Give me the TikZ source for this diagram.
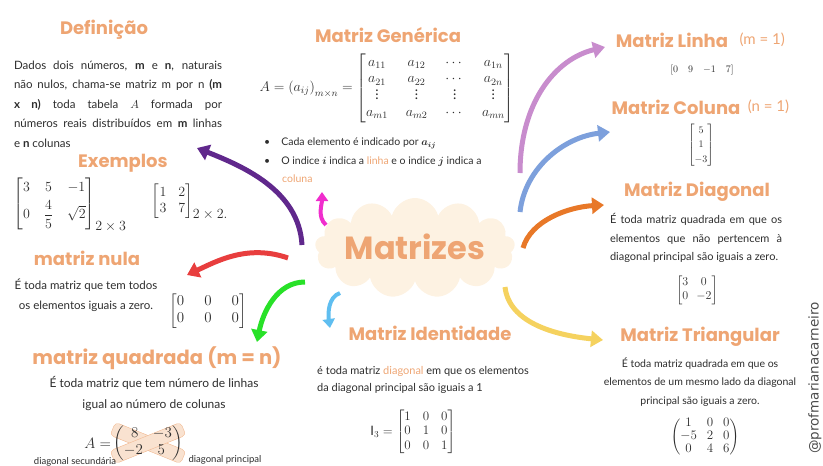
\RequirePackage{fix-cm}
\documentclass[tikz,border=0pt]{standalone}
\usepackage{amsmath}
\usepackage{fontspec}
\setmainfont{Lato}
\newfontfamily\titlefont{Poppins}
\newfontfamily\handlefont{DejaVu Sans}
\usetikzlibrary{positioning,arrows.meta,shapes.symbols,backgrounds}

\definecolor{peach}{RGB}{238,165,115}
\definecolor{peachsoft}{RGB}{246,214,188}
\definecolor{cream}{RGB}{253,242,226}
\definecolor{ink}{RGB}{45,45,45}
\definecolor{arrpurple}{RGB}{96,40,140}
\definecolor{arrred}{RGB}{232,62,62}
\definecolor{arrgreen}{RGB}{40,225,40}
\definecolor{arrmagenta}{RGB}{240,45,205}
\definecolor{arrsky}{RGB}{95,190,240}
\definecolor{arrpink}{RGB}{200,140,205}
\definecolor{arrblue}{RGB}{125,160,220}
\definecolor{arrorange}{RGB}{232,120,40}
\definecolor{arryellow}{RGB}{245,210,95}

\newcommand{\lowdots}{\smash{\vdots}}

\begin{document}
\begin{tikzpicture}[
        x=1pt, y=-1pt,
        title/.style={
            font=\titlefont\bfseries\fontsize{18}{21}\selectfont,
            text=peach,
            inner sep=1pt
        },
        body/.style={
            font=\fontsize{11.5}{19.5}\selectfont,
            text=ink,
            align=center,
            inner sep=0pt
        },
        mat/.style={
            font=\fontsize{13}{15}\selectfont,
            text=ink,
            inner sep=0pt
        },
        branch/.style={
            -{Triangle[length=12pt, width=16pt]},
            line width=5pt
        },
        twig/.style={
            -{Triangle[length=9pt, width=12pt]},
            line width=4pt
        },
        band/.style={
            draw=peach!80,
            fill=peachsoft!70,
            rounded corners=4pt,
            minimum width=76pt,
            minimum height=14pt
        }
    ]
        \useasboundingbox (0,0) rectangle (823,466);

        % --- centre ---
        \node[cloud, cloud puffs=13, aspect=2.1, fill=cream, minimum width=200pt,
              minimum height=100pt, inner sep=0pt] (matrizes) at (415,248) {};
        \node[title, font=\titlefont\bfseries\fontsize{32}{36}\selectfont] (centre) at (415,247) {Matrizes};

        % --- Definição / Exemplos ---
        \node[title] (deftitle) at (104,30) {Definição};
        \node[body, align=justify, text width=208pt] (deftext) at (118,104) {%
            Dados dois números, \textbf{m} e \textbf{n}, naturais\linebreak
            não nulos, chama-se matriz m por n \textbf{(m}\linebreak
            \textbf{x n)} toda tabela $A$ formada por\linebreak
            números reais distribuídos em \textbf{m} linhas\linebreak
            e \textbf{n} colunas};

        \node[title] (extitle) at (123,163) {Exemplos};
        \node[mat, font=\fontsize{14}{16}\selectfont] (ex1) at (70,205)
            {$\setlength{\arraycolsep}{7pt}\begin{bmatrix}3&5&-1\\[4pt]0&\dfrac{4}{5}&\sqrt{2}\end{bmatrix}_{\textstyle 2\times 3}$};
        \node[mat, font=\fontsize{14}{16}\selectfont] (ex2) at (190,202)
            {$\setlength{\arraycolsep}{6pt}\begin{bmatrix}1&2\\3&7\end{bmatrix}_{\textstyle 2\times 2.}$};

        % --- matriz nula ---
        \node[title] (nulatitle) at (87,258) {matriz nula};
        \node[body] (nulatext) at (86,295) {É toda matriz que tem todos\\os elementos iguais a zero.};
        \node[mat, font=\fontsize{15}{17}\selectfont] (zeromat) at (208,311)
            {$\setlength{\arraycolsep}{10pt}\begin{bmatrix}0&0&0\\0&0&0\end{bmatrix}$};

        % --- matriz quadrada ---
        \node[title, font=\titlefont\bfseries\fontsize{19.5}{22}\selectfont] (quadtitle) at (157,358) {matriz quadrada (m = n)};
        \node[body, font=\fontsize{12}{21}\selectfont] (quadtext) at (154,394) {É toda matriz que tem número de linhas\\igual ao número de colunas};
        \node[mat, font=\fontsize{15}{17}\selectfont] (quadmat) at (148,443)
            {$\begin{pmatrix}\,8&-3\\-2&5\,\end{pmatrix}$};
        \node[mat, font=\fontsize{15}{17}\selectfont, left=2pt of quadmat] (quadA) {$A=$};
        \begin{scope}[on background layer]
            \node[band, rotate=-22] (princband) at (quadmat.center) {};
            \node[band, rotate=22] (secband) at (quadmat.center) {};
        \end{scope}
        \node[body, font=\fontsize{9.5}{11}\selectfont] (seclabel) at (75,462) {diagonal secundária};
        \node[body, font=\fontsize{9.5}{11}\selectfont] (prinlabel) at (225,460) {diagonal principal};

        % --- matriz genérica ---
        \node[title] (gentitle) at (388,35) {Matriz Genérica};
        \node[mat, font=\fontsize{14}{16}\selectfont] (geneq) at (387,88)
            {\renewcommand{\arraystretch}{1.05}$A=\left(a_{ij}\right)_{m\times n}=\setlength{\arraycolsep}{9pt}\begin{bmatrix}a_{11}&a_{12}&\cdots&a_{1n}\\a_{21}&a_{22}&\cdots&a_{2n}\\\lowdots&\lowdots&\lowdots&\lowdots\\a_{m1}&a_{m2}&\cdots&a_{mn}\end{bmatrix}$};
        \node[body, align=left, anchor=north west, font=\fontsize{10.5}{18.5}\selectfont] (bullets) at (264,138)
            {\textbullet\hspace{11pt}Cada elemento é indicado por $\boldsymbol{a_{ij}}$\\
             \textbullet\hspace{11pt}O indice $\boldsymbol{i}$ indica a \textcolor{peach}{linha} e o indice $\boldsymbol{j}$ indica a\\
             \hspace{18pt}\textcolor{peach}{coluna}};

        % --- matriz linha / coluna ---
        \node[title] (linhatitle) at (672,40) {Matriz Linha};
        \node[body, text=peach, font=\fontsize{15}{17}\selectfont, right=10pt of linhatitle] (linhacond) {(m = 1)};
        \node[mat, font=\fontsize{10}{12}\selectfont] (linhavec) at (702,70) {$[0\quad 9\quad {-1}\quad 7]$};

        \node[title] (colunatitle) at (676,107) {Matriz Coluna};
        \node[body, text=peach, font=\fontsize{15}{17}\selectfont, right=6pt of colunatitle] (colunacond) {(n = 1)};
        \node[mat, font=\fontsize{10}{12}\selectfont] (colvec) at (701,145)
            {$\setlength{\arraycolsep}{8pt}\renewcommand{\arraystretch}{1.2}\begin{bmatrix}5\\1\\-3\end{bmatrix}$};

        % --- matriz diagonal ---
        \node[title] (diagtitle) at (697,192) {Matriz Diagonal};
        \node[body, align=justify, text width=172pt, font=\fontsize{11}{18.5}\selectfont] (diagtext) at (696,238) {%
            É toda matriz quadrada em que os\linebreak
            elementos que não pertencem à\linebreak
            diagonal principal são iguais a zero.};
        \node[mat, font=\fontsize{12}{14}\selectfont] (diagmat) at (697,290)
            {$\setlength{\arraycolsep}{4pt}\begin{bmatrix}3&0\\0&-2\end{bmatrix}$};

        % --- matriz triangular ---
        \node[title] (triangtitle) at (700,337) {Matriz Triangular};
        \node[body, font=\fontsize{10.5}{18.5}\selectfont] (triangtext) at (700,382)
            {É toda matriz quadrada em que os\\elementos de um mesmo lado da diagonal\\principal são iguais a zero.};
        \node[mat, font=\fontsize{13}{15}\selectfont] (triangmat) at (705,437)
            {$\renewcommand{\arraystretch}{0.85}\begin{pmatrix}1&0&0\\-5&2&0\\0&4&6\end{pmatrix}$};

        % --- matriz identidade ---
        \node[title] (identtitle) at (430,333) {Matriz Identidade};
        \node[body, align=left, anchor=west, font=\fontsize{11}{17}\selectfont] (identtext) at (317,380)
            {é toda matriz \textcolor{peach}{diagonal} em que os elementos\\da diagonal principal são iguais a 1};
        \node[mat, font=\fontsize{13}{15}\selectfont] (identeq) at (413,432)
            {$\mathrm{I}_3=\setlength{\arraycolsep}{6pt}\renewcommand{\arraystretch}{0.95}\begin{bmatrix}1&0&0\\0&1&0\\0&0&1\end{bmatrix}$};

        \node[rotate=90, text=ink!85, font=\handlefont\fontsize{13.5}{15}\selectfont] (handle) at (815,378) {@profmarianacarneiro};

        % --- ramos ---
        \coordinate (purpleStart) at (302,245);  \coordinate (defTip) at (197,148);
        \coordinate (redStart) at (288,258);     \coordinate (nulaTip) at (187,275);
        \coordinate (greenStart) at (305,282);   \coordinate (quadTip) at (257,342);
        \coordinate (magStart) at (326,225);     \coordinate (genTip) at (322,192);
        \coordinate (skyStart) at (340,293);     \coordinate (identTip) at (330,328);
        \coordinate (pinkStart) at (520,173);    \coordinate (linhaTip) at (605,47);
        \coordinate (blueStart) at (520,212);    \coordinate (colunaTip) at (610,132);
        \coordinate (orangeStart) at (523,248);  \coordinate (diagTip) at (604,205);
        \coordinate (yellowStart) at (505,287);  \coordinate (triangTip) at (603,340);

        \draw[branch, arrpurple] (purpleStart) .. controls +(-3,-55) and +(45,18) .. (defTip);
        \draw[branch, arrred] (redStart) .. controls +(-40,-14) and +(30,-14) .. (nulaTip);
        \draw[branch, arrgreen] (greenStart) .. controls +(-28,0) and +(6,-30) .. (quadTip);
        \draw[twig, arrmagenta] (magStart) .. controls +(-9,-8) and +(0,12) .. (genTip);
        \draw[twig, arrsky] (skyStart) .. controls +(-12,4) and +(-2,-14) .. (identTip);
        \draw[branch, arrpink] (pinkStart) .. controls +(0,-70) and +(-50,12) .. (linhaTip);
        \draw[branch, arrblue] (blueStart) .. controls +(5,-45) and +(-45,5) .. (colunaTip);
        \draw[branch, arrorange] (orangeStart) .. controls +(8,-28) and +(-35,2) .. (diagTip);
        \draw[branch, arryellow] (yellowStart) .. controls +(4,35) and +(-50,-5) .. (triangTip);
    \end{tikzpicture}
\end{document}
